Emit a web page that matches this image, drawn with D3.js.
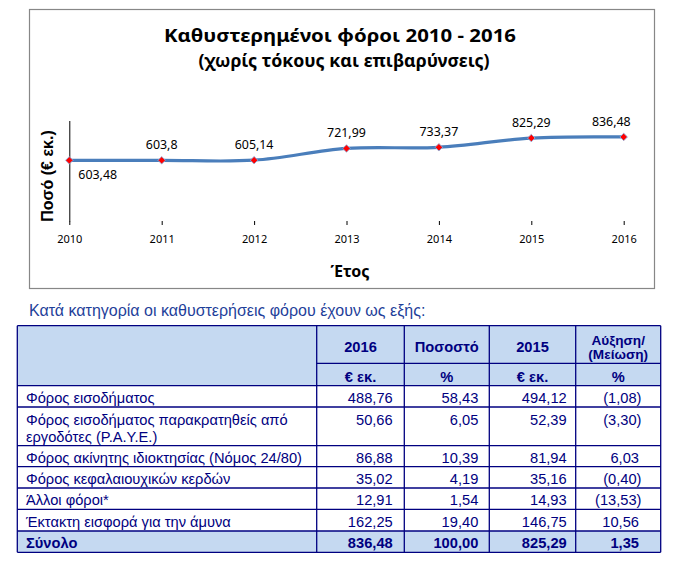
<!DOCTYPE html>
<html><head><meta charset="utf-8">
<script src="https://cdn.jsdelivr.net/npm/d3@7"></script>
<style>body{margin:0;background:#fff}</style>
</head><body><svg id="c" width="692" height="565"></svg>
<script>
// ---------------- data ----------------
const years = [2010, 2011, 2012, 2013, 2014, 2015, 2016];
const arrears = [603.48, 603.8, 605.14, 721.99, 733.37, 825.29, 836.48];
const arrearLabels = ["603,48", "603,8", "605,14", "721,99", "733,37", "825,29", "836,48"];
const yDomain = [0, 1000];

const chartTitle = "Καθυστερημένοι φόροι  2010 - 2016";
const chartSubtitle = "(χωρίς τόκους και επιβαρύνσεις)";
const xTitle = "Έτος";
const yTitle = "Ποσό (€ εκ.)";

const tableCaption = "Κατά κατηγορία οι καθυστερήσεις φόρου έχουν ως εξής:";
const headTop = [[""], ["2016"], ["Ποσοστό"], ["2015"], ["Αύξηση/", "(Μείωση)"]];
const headUnits = ["", "€ εκ.", "%", "€ εκ.", "%"];
const categories = [
  ["Φόρος εισοδήματος"],
  ["Φόρος εισοδήματος παρακρατηθείς από", "εργοδότες (P.A.Y.E.)"],
  ["Φόρος ακίνητης ιδιοκτησίας (Νόμος 24/80)"],
  ["Φόρος κεφαλαιουχικών κερδών"],
  ["Άλλοι φόροι*"],
  ["Έκτακτη εισφορά για την άμυνα"]
];
const amount2016 = [488.76, 50.66, 86.88, 35.02, 12.91, 162.25];
const share2016 = [58.43, 6.05, 10.39, 4.19, 1.54, 19.40];
const amount2015 = [494.12, 52.39, 81.94, 35.16, 14.93, 146.75];
const changePct = [-1.08, -3.30, 6.03, -0.40, -13.53, 10.56];
const totalLabel = "Σύνολο";
const totals = [836.48, 100.00, 825.29, 1.35];

// ---------------- layout ----------------
const svg = d3.select("#c");
svg.append("rect").attr("width", 692).attr("height", 565).attr("fill", "#fff");

// chart frame
svg.append("rect").attr("x", 29.5).attr("y", 9.5).attr("width", 625).attr("height", 279)
  .attr("fill", "#fff").attr("stroke", "#878787").attr("stroke-width", 1.2);

svg.append("text").text(chartTitle)
  .attr("x", 340).attr("y", 42).attr("text-anchor", "middle")
  .attr("font-family", "'Noto Sans', sans-serif").attr("font-weight", "bold")
  .attr("font-size", 18).attr("textLength", 352).attr("lengthAdjust", "spacingAndGlyphs")
  .attr("fill", "#000");
svg.append("text").text(chartSubtitle)
  .attr("x", 344).attr("y", 67).attr("text-anchor", "middle")
  .attr("font-family", "'Noto Sans', sans-serif").attr("font-weight", "bold")
  .attr("font-size", 17).attr("textLength", 291).attr("lengthAdjust", "spacingAndGlyphs")
  .attr("fill", "#000");

const x = d3.scaleLinear().domain([years[0], years[years.length - 1]]).range([69.3, 623.7]);
const y = d3.scaleLinear().domain(yDomain).range([221, 120.5]);

// y axis (line only)
svg.append("g").attr("transform", `translate(${x(years[0])},0)`)
  .call(d3.axisLeft(y).tickValues([]).tickSizeOuter(0))
  .call(g => g.select(".domain").attr("stroke", "#000").attr("stroke-width", 1));

// x axis: ticks and labels, no domain line
const xa = svg.append("g").attr("transform", `translate(0,${y(0)})`)
  .call(d3.axisBottom(x).tickValues(years).tickFormat(d3.format("d")).tickSize(4).tickPadding(10));
xa.select(".domain").remove();
xa.selectAll("line").attr("stroke", "#000");
xa.selectAll("text").attr("font-family", "'Noto Sans', sans-serif").attr("font-size", 11)
  .attr("fill", "#000");

// axis titles
svg.append("text").text(xTitle)
  .attr("x", 350).attr("y", 277).attr("text-anchor", "middle")
  .attr("font-family", "'Noto Sans', sans-serif").attr("font-weight", "bold")
  .attr("font-size", 16).attr("fill", "#000");
svg.append("text").text(yTitle)
  .attr("transform", "translate(53,176) rotate(-90)").attr("text-anchor", "middle")
  .attr("font-family", "'Liberation Sans', Arial, sans-serif").attr("font-weight", "bold")
  .attr("font-size", 16).attr("fill", "#000");

// line
const pts = years.map((yr, i) => ({yr, v: arrears[i], lab: arrearLabels[i]}));
const line = d3.line().x(d => x(d.yr)).y(d => y(d.v)).curve(d3.curveCardinal.tension(0));
svg.append("path").datum(pts).attr("d", line)
  .attr("fill", "none").attr("stroke", "#4A7EBB").attr("stroke-width", 3.2)
  .attr("stroke-linecap", "round");

// markers
svg.selectAll(".mk").data(pts).join("path").attr("class", "mk")
  .attr("d", d3.symbol(d3.symbolSquare, 28)())
  .attr("transform", d => `translate(${x(d.yr)},${y(d.v)}) rotate(45)`)
  .attr("fill", "#FF0000").attr("stroke", "#8CB0DE").attr("stroke-width", 0.8);

// data labels
const last = pts.length - 1;
svg.selectAll(".lb").data(pts).join("text").attr("class", "lb")
  .text(d => d.lab)
  .attr("x", (d, i) => i === 0 ? x(d.yr) + 9 : (i === last ? x(d.yr) + 7 : x(d.yr)))
  .attr("y", (d, i) => i === 0 ? y(d.v) + 18.5 : y(d.v) - 11)
  .attr("text-anchor", (d, i) => i === 0 ? "start" : (i === last ? "end" : "middle"))
  .attr("font-family", "'Noto Sans', sans-serif").attr("font-size", 12.4).attr("fill", "#000");

// ---------------- table ----------------
const navy = "#000080";
const tFont = "'Liberation Sans', Arial, sans-serif";
const fs = 14.67;
svg.append("text").text(tableCaption)
  .attr("x", 29).attr("y", 315.5)
  .attr("font-family", tFont).attr("font-size", 16).attr("fill", "#1F3F9A");

const colX = [17.3, 316.7, 404.3, 489.3, 575.7, 660.7];
const rowY = [325.7, 363.3, 385.7, 407, 445.7, 466.7, 488, 509.3, 531, 552.3];
const headFill = "#C5D9F1";

svg.append("rect").attr("x", colX[0]).attr("y", rowY[0])
  .attr("width", colX[5] - colX[0]).attr("height", rowY[2] - rowY[0]).attr("fill", headFill);
svg.append("rect").attr("x", colX[0]).attr("y", rowY[8])
  .attr("width", colX[5] - colX[0]).attr("height", rowY[9] - rowY[8]).attr("fill", headFill);

const grid = svg.append("g").attr("stroke", navy).attr("stroke-width", 1.3);
rowY.forEach((ry, i) => {
  grid.append("line").attr("x1", i === 1 ? colX[1] : colX[0]).attr("x2", colX[5])
    .attr("y1", ry).attr("y2", ry);
});
colX.forEach(cx => {
  grid.append("line").attr("x1", cx).attr("x2", cx).attr("y1", rowY[0]).attr("y2", rowY[9]);
});

const tt = svg.append("g").attr("font-family", tFont).attr("font-size", fs).attr("fill", navy);
const cc = i => (colX[i] + colX[i + 1]) / 2;
// header row 1
headTop.forEach((lines, i) => {
  if (!lines[0]) return;
  const two = lines.length > 1;
  const base = two ? 344.5 : 352;
  lines.forEach((ln, k) => tt.append("text").text(ln).attr("x", cc(i)).attr("y", base + k * 14)
    .attr("text-anchor", "middle").attr("font-weight", "bold")
    .attr("font-size", two ? 13.6 : fs));
});
headUnits.forEach((u, i) => {
  if (!u) return;
  tt.append("text").text(u).attr("x", cc(i)).attr("y", 381.5)
    .attr("text-anchor", "middle").attr("font-weight", "bold");
});

const f2 = v => d3.format(".2f")(Math.abs(v)).replace(".", ",");
const fChg = v => v < 0 ? "(" + f2(v) + ")" : f2(v);
const baselines = [403, 425, 462.7, 484, 505.3, 527];
const rightEdge = [null, 392.7, 478.3, 566.7];
categories.forEach((lines, r) => {
  lines.forEach((ln, k) => tt.append("text").text(ln).attr("x", 26).attr("y", baselines[r] + k * 16.7));
  [amount2016[r], share2016[r], amount2015[r]].forEach((v, c) => {
    tt.append("text").text(f2(v)).attr("x", rightEdge[c + 1]).attr("y", baselines[r]).attr("text-anchor", "end");
  });
  const cv = changePct[r];
  tt.append("text").text(fChg(cv)).attr("x", cv < 0 ? 641.5 : 639).attr("y", baselines[r]).attr("text-anchor", "end");
});
// total row
tt.append("text").text(totalLabel).attr("x", 26).attr("y", 548.3).attr("font-weight", "bold");
totals.forEach((v, c) => {
  tt.append("text").text(c === 3 ? fChg(v) : f2(v))
    .attr("x", c === 3 ? (v < 0 ? 641.5 : 639) : rightEdge[c + 1]).attr("y", 548.3)
    .attr("text-anchor", "end").attr("font-weight", "bold");
});
</script></body></html>
